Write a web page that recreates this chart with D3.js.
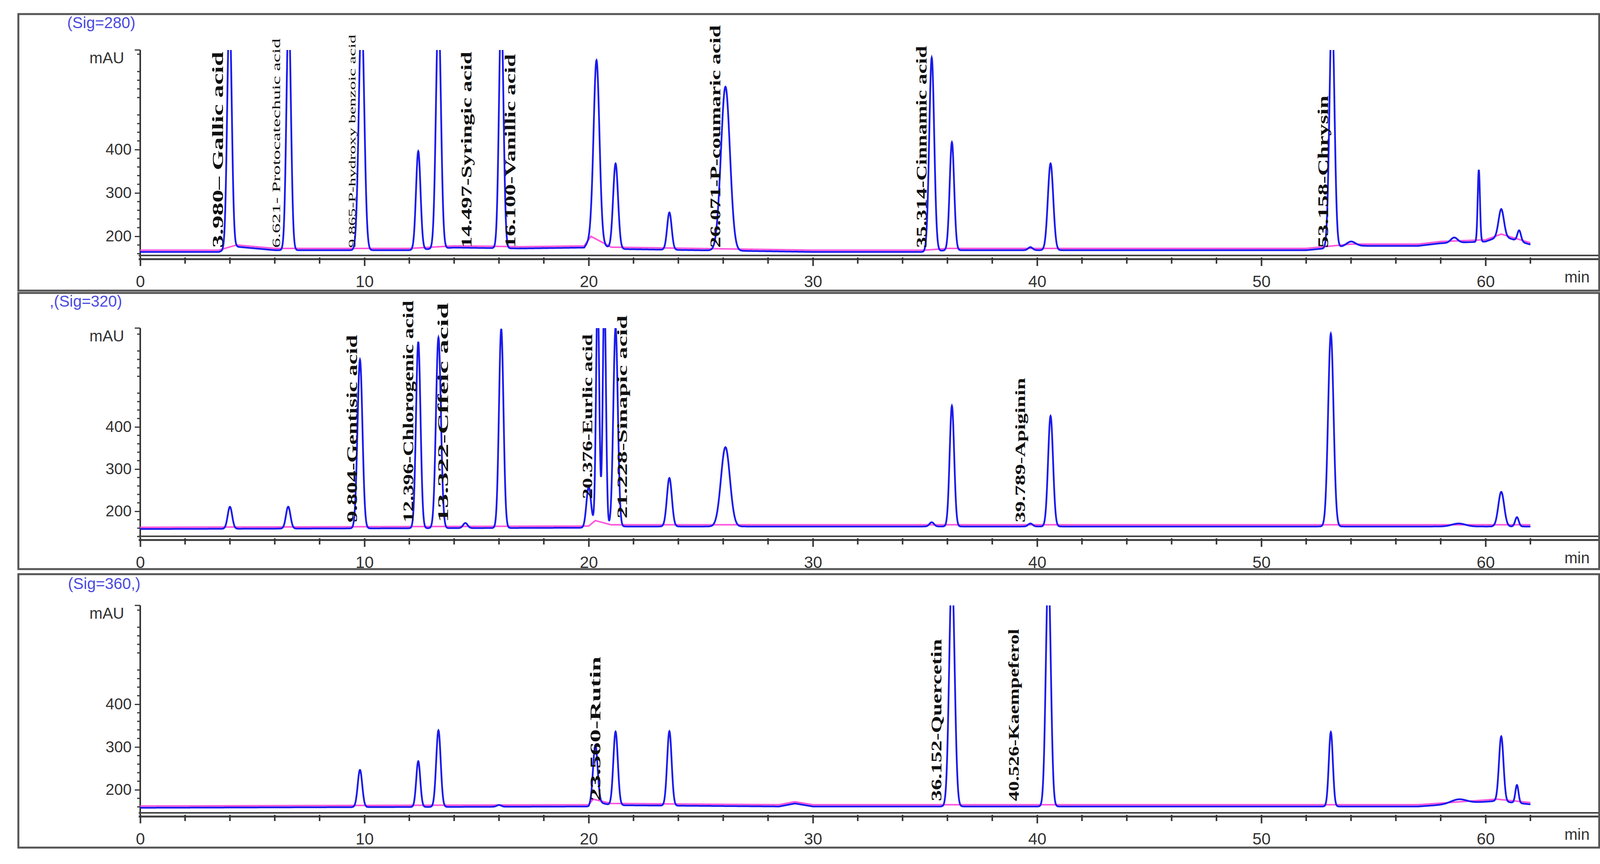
<!DOCTYPE html>
<html><head><meta charset="utf-8">
<script src="https://cdn.jsdelivr.net/npm/d3@7"></script>
<style>body{margin:0;background:#fff}</style></head>
<body><svg id="c" width="4139" height="2212"></svg>
<script>
// ---- data ----
const signals = ["(Sig=280)", ",(Sig=320)", "(Sig=360,)"];
const xTicks = [0,10,20,30,40,50,60];
const yTicks = [200,300,400];
// peaks: [retention time (min), height (mAU), width sigma (min)]
const peaks280 = [[3.98,720,0.1],[6.62,720,0.1],[9.87,720,0.12],[12.4,395,0.1],[13.3,720,0.11],[16.1,720,0.1],
  [20.35,585,0.13],[21.2,365,0.11],[23.6,254,0.1],[26.1,546,0.2],[35.3,615,0.11],[36.2,417,0.1],[39.7,175,0.1],
  [40.6,368,0.12],[53.15,720,0.11],[54.0,178,0.2],[58.6,180,0.15],[59.7,334,0.05],[60.7,230,0.12],[61.5,193,0.08]];
const peaks320 = [[4.0,220,0.1],[6.6,220,0.1],[9.8,568,0.11],[12.4,610,0.1],[13.3,620,0.11],[14.5,180,0.1],[16.1,640,0.1],
  [20.0,265,0.1],[20.4,720,0.07],[20.7,720,0.07],[21.2,640,0.1],[23.6,283,0.11],[26.1,356,0.2],[35.3,178,0.1],
  [36.2,454,0.1],[39.7,175,0.1],[40.6,430,0.11],[53.1,625,0.12],[58.8,175,0.3],[60.7,250,0.13],[61.4,190,0.08]];
const peaks360 = [[9.8,255,0.1],[12.4,275,0.09],[13.3,347,0.1],[16.0,172,0.1],[20.3,300,0.1],[21.2,340,0.1],
  [23.6,342,0.1],[36.2,720,0.12],[40.5,720,0.11],[53.1,342,0.09],[58.8,178,0.35],[60.7,320,0.1],[61.4,210,0.07]];
const baselines = [[[0,168],[3.5,168],[4.3,180],[6,172],[12,172],[14,178],[17,176],[19.8,178],[20.1,200],[21,175],[30,168],[35,168],[36,172],[52,172],[54,182],[57,182],[58,188],[60,192],[60.7,205],[62,185]],
  [[0,162],[20,165],[20.3,178],[21,168],[62,168]],
  [[0,162],[20,165],[20.2,178],[21,168],[28.5,165],[29.2,172],[30,165],[57,165],[60.5,178],[62,170]]];
const labels280 = [["3.980– Gallic acid",3.45],["6.621- Protocatechuic acid",6.05],["9.865-P-hydroxy benzoic acid",9.45],
  ["14.497-Syringic acid",14.55],["16.100-Vanillic acid",16.5],["26.071-P-coumaric acid",25.65],
  ["35.314-Cinnamic acid",34.85],["53.158-Chrysin",52.75]];
const labels320 = [["9.804-Gentisic acid",9.45],["12.396-Chlorogenic acid",11.95],["13.322-Cffeic acid",13.5],
  ["20.376-Eurlic acid",19.95],["21.228-Sinapic acid",21.5],["39.789-Apiginin",39.25]];
const labels360 = [["23.560-Rutin",20.3],["36.152-Quercetin",35.5],["40.526-Kaempeferol",38.95]];

// ---- layout (label drawn lengths, font sizes, bottom offsets in px) ----
const labelStyle = [
  [[502,40,0],[536,30,0],[546,26,0],[502,38,0],[496,38,0],[570,38,0],[517,38,0],[390,38,0]],
  [[480,38,0],[568,38,0],[562,38,0],[422,36,60],[520,36,10],[370,36,0]],
  [[370,38,0],[415,38,0],[441,38,0]]
];
const panels = [
 {sig:signals[0], peaks:peaks280, base:baselines[0], labels:labels280, box:[47,36,744], y400:383, ppu:1.11, yTop:128, axisY:659, sigXY:[172,72]},
 {sig:signals[1], peaks:peaks320, base:baselines[1], labels:labels320, box:[47,750,1457], y400:1093, ppu:1.08, yTop:840, axisY:1378, sigXY:[127,785]},
 {sig:signals[2], peaks:peaks360, base:baselines[2], labels:labels360, box:[47,1470,2170], y400:1803, ppu:1.095, yTop:1550, axisY:2086, sigXY:[174,1508]}
];
const svg = d3.select("#c");
const x = d3.scaleLinear().domain([0,62]).range([359,359+62*57.4]);
const right = 4094;

panels.forEach((p,i)=>{
  const y = d3.scaleLinear().domain([400,200]).range([p.y400,p.y400+200*p.ppu]);
  const bottomVal = y.invert(p.axisY);
  const topVal = y.invert(p.yTop);
  const g = svg.append("g");
  g.append("text").attr("x",p.sigXY[0]).attr("y",p.sigXY[1]).text(p.sig)
    .attr("font-family","Liberation Sans, Arial").attr("font-size",40).attr("fill","#4a4adf").attr("text-anchor","start");
  const ya = d3.axisLeft(y).tickValues(yTicks).tickSize(14).tickPadding(8);
  const yg = g.append("g").attr("transform",`translate(${x(0)},0)`).call(ya);
  yg.select(".domain").attr("d",`M0,${p.yTop}V${p.axisY}`).attr("stroke","#333").attr("stroke-width",4);
  yg.selectAll("text").attr("font-size",40).attr("font-family","Liberation Sans Narrow, Liberation Sans").attr("fill","#333");
  yg.selectAll(".tick line").attr("stroke","#333").attr("stroke-width",3);
  const minor = d3.range(Math.ceil(bottomVal/20)*20, topVal, 20).filter(v=>v%100!==0);
  yg.selectAll(".mn").data(minor).join("line").attr("x1",-8).attr("x2",0).attr("y1",d=>y(d)).attr("y2",d=>y(d)).attr("stroke","#333").attr("stroke-width",3);
  yg.append("line").attr("x1",-14).attr("x2",0).attr("y1",p.yTop).attr("y2",p.yTop).attr("stroke","#333").attr("stroke-width",3);
  g.append("text").attr("x",318).attr("y",p.yTop+34).text("mAU").attr("text-anchor","end")
    .attr("font-size",40).attr("font-family","Liberation Sans Narrow, Liberation Sans").attr("fill","#333");
  g.append("rect").attr("x",x(0)-4).attr("y",p.axisY-7).attr("width",right-x(0)+4).attr("height",4).attr("fill","#444");
  g.append("rect").attr("x",x(0)-4).attr("y",p.axisY+2).attr("width",right-x(0)+4).attr("height",5).attr("fill","#444");
  const xa = d3.axisBottom(x).tickValues(xTicks).tickSize(22).tickPadding(24);
  const xg = g.append("g").attr("transform",`translate(0,${p.axisY})`).call(xa);
  xg.select(".domain").remove();
  xg.selectAll(".tick line").attr("stroke","#333").attr("stroke-width",4);
  xg.selectAll("text").attr("font-size",42).attr("font-family","Liberation Sans Narrow, Liberation Sans").attr("fill","#333");
  const mt = d3.range(2,63,2).filter(v=>v%10!==0);
  xg.selectAll(".mx").data(mt).join("line").attr("x1",d=>x(d)).attr("x2",d=>x(d)).attr("y1",0).attr("y2",16).attr("stroke","#333").attr("stroke-width",4);
  g.append("text").attr("x",4005).attr("y",p.axisY+64).text("min").attr("font-size",40)
    .attr("font-family","Liberation Sans Narrow, Liberation Sans").attr("fill","#333");
  const cid = "clip"+i;
  svg.append("clipPath").attr("id",cid).append("rect").attr("x",x(0)).attr("y",p.yTop).attr("width",right-x(0)).attr("height",p.axisY-p.yTop);
  const lineGen = d3.line().x(d=>x(d[0])).y(d=>y(d[1]));
  g.append("path").datum(p.base).attr("d",lineGen).attr("fill","none").attr("stroke","#ff55dd").attr("stroke-width",4).attr("clip-path",`url(#${cid})`);
  const baseAt = t => d3.scaleLinear().domain(p.base.map(d=>d[0])).range(p.base.map(d=>d[1]))(t) - 4;
  const ts = d3.range(0,62.001,0.01);
  const trace = ts.map(t=>[t, p.peaks.reduce((s,[c,h,w])=>s+(h-168)*Math.exp(-0.5*((t-c)/w)**2), baseAt(t))]);
  g.append("path").datum(trace).attr("d",lineGen).attr("fill","none").attr("stroke","#1a1aee").attr("stroke-width",4.5).attr("clip-path",`url(#${cid})`);
  const baseY = y(168) - 6;
  p.labels.forEach(([txt,t],k)=>{
    const [len,fs,off] = labelStyle[i][k];
    g.append("text").attr("transform",`translate(${x(t)},${baseY-off}) rotate(-90)`).text(txt)
      .attr("dominant-baseline","central").attr("textLength",len).attr("lengthAdjust","spacingAndGlyphs")
      .attr("font-family","Liberation Serif, Times New Roman").attr("font-weight", fs<32?"normal":"bold").attr("font-size",fs).attr("fill","#111");
  });
  g.append("rect").attr("x",p.box[0]).attr("y",p.box[1]).attr("width",right-p.box[0]).attr("height",p.box[2]-p.box[1])
    .attr("fill","none").attr("stroke","#555").attr("stroke-width",5);
});
</script></body></html>
